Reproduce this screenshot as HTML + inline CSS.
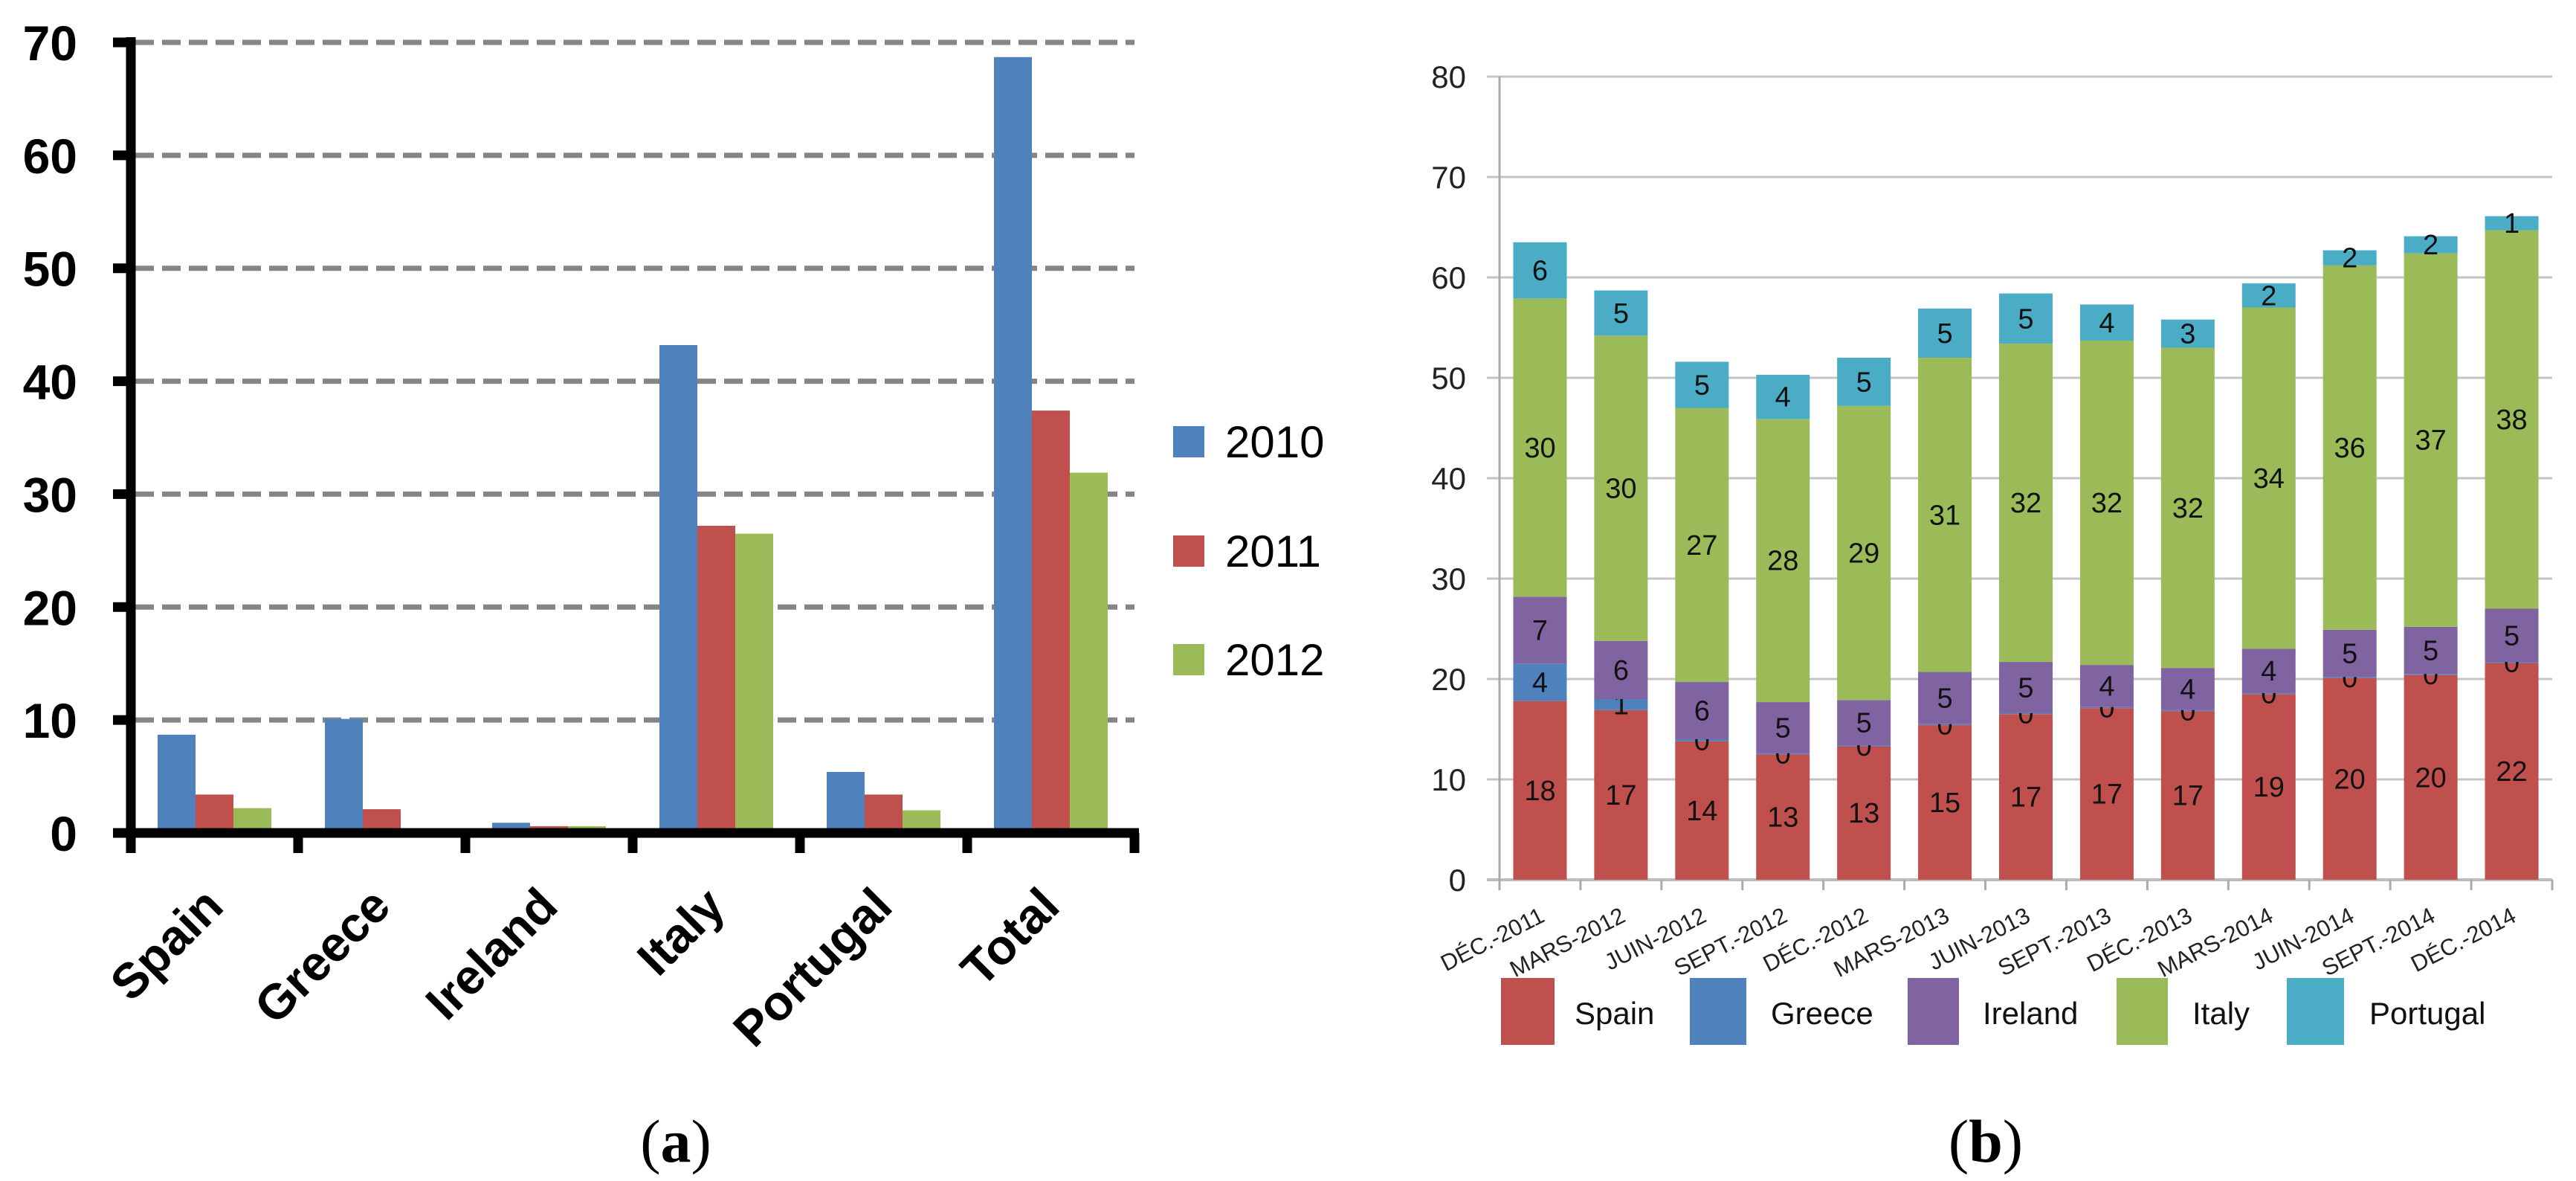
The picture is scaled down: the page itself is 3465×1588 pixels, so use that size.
<!DOCTYPE html>
<html><head><meta charset="utf-8"><style>
html,body{margin:0;padding:0;background:#fff;}
svg{display:block;}
</style></head><body>
<svg id="c" width="3465" height="1588" viewBox="0 0 3465 1588" xmlns="http://www.w3.org/2000/svg">
<g id="left"></g>
<g id="right"></g>
<text x="909" y="1562" text-anchor="middle" font-family="Liberation Serif, serif" font-size="82">(<tspan font-weight="bold">a</tspan>)</text>
<text x="2671" y="1562" text-anchor="middle" font-family="Liberation Serif, serif" font-size="82">(<tspan font-weight="bold">b</tspan>)</text>
</svg>
<script>
// ---- Chart (a) data ----
const catsA = ["Spain","Greece","Ireland","Italy","Portugal","Total"];
const yearsA = ["2010","2011","2012"];
const v2010 = [8.7,10.1,0.9,43.2,5.4,68.7];
const v2011 = [3.4,2.1,0.6,27.2,3.4,37.4];
const v2012 = [2.2,0,0.6,26.5,2.0,31.9];
const ticksA = [0,10,20,30,40,50,60,70];

// ---- Chart (b) data ----
const catsB = ["DÉC.-2011","MARS-2012","JUIN-2012","SEPT.-2012","DÉC.-2012","MARS-2013","JUIN-2013","SEPT.-2013","DÉC.-2013","MARS-2014","JUIN-2014","SEPT.-2014","DÉC.-2014"];
const seriesB = ["Spain","Greece","Ireland","Italy","Portugal"];
const spainB = [17.8,16.9,13.8,12.5,13.3,15.4,16.5,17.1,16.8,18.5,20.1,20.4,21.6];
const greeceB = [3.7,1.1,0.2,0.1,0.1,0.1,0.1,0.1,0.1,0.1,0.1,0.1,0.1];
const irelandB = [6.7,5.8,5.7,5.1,4.5,5.2,5.1,4.2,4.2,4.4,4.7,4.7,5.3];
const italyB = [29.7,30.4,27.3,28.2,29.3,31.3,31.7,32.3,31.9,34.0,36.3,37.2,37.7];
const portugalB = [5.6,4.5,4.6,4.4,4.8,4.9,5.0,3.6,2.8,2.4,1.5,1.7,1.4];
const ticksB = [0,10,20,30,40,50,60,70,80];

const NS = "http://www.w3.org/2000/svg";
function mk(parent, tag, attrs, txt){
  const e = document.createElementNS(NS, tag);
  for (const k in attrs) e.setAttribute(k, attrs[k]);
  if (txt !== undefined) e.textContent = txt;
  parent.appendChild(e);
  return e;
}

// ---------- Chart A ----------
(function(){
  const g = document.getElementById('left');
  const x0 = 176, x1 = 1526, y0 = 1120, yTop = 57;
  const yA = v => y0 - (v/70)*(y0-yTop);
  const cw = (x1-x0)/catsA.length;
  const colors = ["#4F81BD","#C0504D","#9BBB59"];
  const series = [v2010, v2011, v2012];
  ticksA.forEach(t => {
    if (t > 0) {
      const l = mk(g,'line',{x1:x0+6,x2:x1,y1:yA(t),y2:yA(t),stroke:'#858585','stroke-width':7,'stroke-dasharray':'25 11'});
      
      
    }
    const tk = mk(g,'line',{x1:152,x2:x0,y1:yA(t),y2:yA(t),stroke:'#000','stroke-width':13});
    
    
    const tl = mk(g,'text',{x:104,y:yA(t)+24,'text-anchor':'end','font-family':'Liberation Sans, sans-serif','font-weight':'bold','font-size':66,fill:'#000'}, String(t));
    
    
  });
  const bw = 51;
  catsA.forEach((c,i) => {
    const gx = x0 + i*cw + (cw - 3*bw)/2;
    series.forEach((s,j) => {
      const r = mk(g,'rect',{x:gx+j*bw,y:yA(s[i]),width:bw,height:y0-yA(s[i]),fill:colors[j]});
      
      
    });
    const cx = x0 + (i+0.5)*cw + 15, cy = 1222;
    const lb = mk(g,'text',{x:cx,y:cy,'text-anchor':'end',transform:`rotate(-45 ${cx} ${cy})`,'font-family':'Liberation Sans, sans-serif','font-weight':'bold','font-size':66,fill:'#000'}, c);
    
    
  });
  for (let i=0;i<=catsA.length;i++){
    const xt = x0 + i*cw;
    const t = mk(g,'line',{x1:xt,x2:xt,y1:y0,y2:1147,stroke:'#000','stroke-width':13});
    
    
  }
  const ax = mk(g,'line',{x1:x0,x2:x0,y1:yTop-7,y2:y0+6,stroke:'#000','stroke-width':13});
  
  
  const bx = mk(g,'line',{x1:152,x2:x1+6,y1:y0,y2:y0,stroke:'#000','stroke-width':13});
  
  
  const legY = [594,741,887];
  yearsA.forEach((yr,j) => {
    const s = mk(g,'rect',{x:1578,y:legY[j]-21,width:42,height:42,fill:colors[j]});
    
    
    const t = mk(g,'text',{x:1648,y:legY[j]+21,'font-family':'Liberation Sans, sans-serif','font-size':60,fill:'#000'}, yr);
    
    
  });
})();

// ---------- Chart B ----------
(function(){
  const g = document.getElementById('right');
  const x0 = 2017, x1 = 3433, y0 = 1183, yTop = 103;
  const yB = v => y0 - (v/80)*(y0-yTop);
  const cw = (x1-x0)/catsB.length;
  const colors = ["#C0504D","#4F81BD","#8064A2","#9BBB59","#4BACC6"];
  const data = [spainB, greeceB, irelandB, italyB, portugalB];
  ticksB.forEach(t => {
    const l = mk(g,'line',{x1:2000,x2:x1,y1:yB(t),y2:yB(t),stroke:t===0?'#bdbdbd':'#c4c4c4','stroke-width':t===0?4:3});
    
    
    const tl = mk(g,'text',{x:1972,y:yB(t)+15,'text-anchor':'end','font-family':'Liberation Sans, sans-serif','font-size':42,fill:'#222'}, String(t));
    
    
  });
  const ax = mk(g,'line',{x1:x0,x2:x0,y1:yTop,y2:1197,stroke:'#aaa','stroke-width':3});
  
  
  for (let i=0;i<=catsB.length;i++){
    const xt = x0 + i*cw;
    const t = mk(g,'line',{x1:xt,x2:xt,y1:y0,y2:1197,stroke:'#aaa','stroke-width':3});
    
    
  }
  const bw = 72;
  catsB.forEach((c,i) => {
    const bx = x0 + i*cw + (cw-bw)/2;
    let base = 0;
    data.forEach((s,j) => {
      const v = s[i];
      const r = mk(g,'rect',{x:bx,y:yB(base+v),width:bw,height:yB(base)-yB(base+v),fill:colors[j]});
      
      
      const ly = yB(base+v/2)+13;
      const lt = mk(g,'text',{x:bx+bw/2,y:ly,'text-anchor':'middle','font-family':'Liberation Sans, sans-serif','font-size':38,fill:'#111'}, String(Math.round(v)));
      
      
      base += v;
    });
    const cx = x0 + (i+0.5)*cw + 8, cy = 1238;
    const lb = mk(g,'text',{x:cx,y:cy,'text-anchor':'end',transform:`rotate(-27 ${cx} ${cy})`,'font-family':'Liberation Sans, sans-serif','font-size':31,fill:'#222'}, c);
    
    
  });
  const sqX = [2019,2273,2566,2847,3076];
  const sqW = [72,76,69,69,77];
  const txX = [2118,2382,2667,2949,3187];
  seriesB.forEach((s,j) => {
    const r = mk(g,'rect',{x:sqX[j],y:1315,width:sqW[j],height:90,fill:colors[j]});
    
    
    const t = mk(g,'text',{x:txX[j],y:1377,'font-family':'Liberation Sans, sans-serif','font-size':42,fill:'#111'}, s);
    
    
  });
})();
</script>
</body></html>
